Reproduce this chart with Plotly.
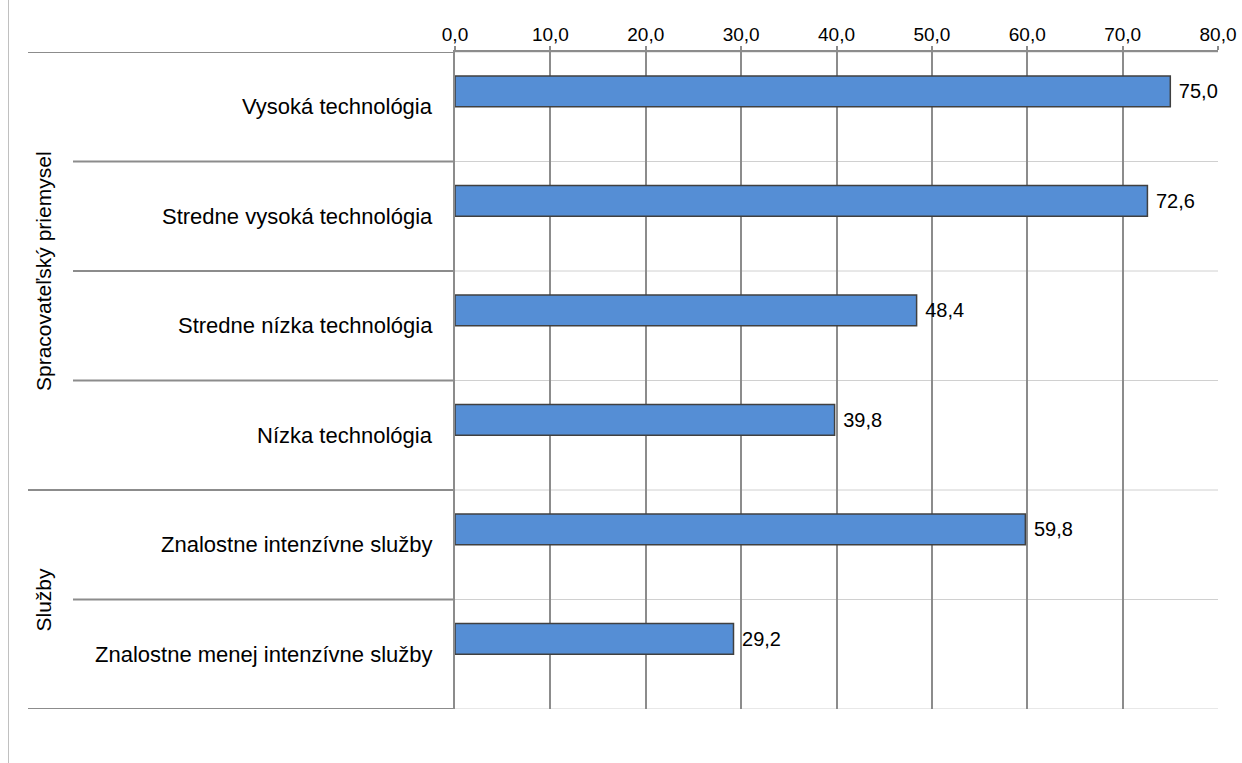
import plotly.graph_objects as go

# ── data ─────────────────────────────────────────────────────────────────────
categories = [
    "Vysoká technológia",
    "Stredne vysoká technológia",
    "Stredne nízka technológia",
    "Nízka technológia",
    "Znalostne intenzívne služby",
    "Znalostne menej intenzívne služby",
]
values = [75.0, 72.6, 48.4, 39.8, 59.8, 29.2]

groups = ["Spracovateľský priemysel", "Služby"]
group_sizes = [4, 2]

x_ticks = [0, 10, 20, 30, 40, 50, 60, 70, 80]

# ── layout constants ─────────────────────────────────────────────────────────
W, H = 1242, 763
M = dict(l=455, r=W - 1218, t=52, b=H - 709)
PW = W - M["l"] - M["r"]
PH = H - M["t"] - M["b"]

BAR = "#558ed5"
GRID = "#8c8c8c"
SEP_IN = "#d0d0d0"
FONT = "Arial, Liberation Sans, sans-serif"


def px_to_xpaper(px):
    return (px - M["l"]) / PW


def px_to_ypaper(py):
    return (H - M["b"] - py) / PH


pos = list(range(len(categories)))

fig = go.Figure(go.Bar(
    x=values, y=pos, orientation="h",
    width=0.28, offset=-0.28,
    marker=dict(color=BAR, line=dict(color="#404040", width=1.5)),
    text=values, texttemplate=" %{x:.1f}", textposition="outside",
    textfont=dict(size=20, color="#000000"),
    cliponaxis=False, hoverinfo="skip",
))

shapes = []
# group boundaries
bounds_group = {0}
acc = 0
for s in group_sizes:
    acc += s
    bounds_group.add(acc)

for b in range(len(categories) + 1):
    yb = b - 0.5
    # light separator inside plot
    shapes.append(dict(type="line", xref="paper", yref="y", x0=0, x1=1,
                       y0=yb, y1=yb, line=dict(color=SEP_IN, width=1),
                       layer="below"))
    start = 28 if b in bounds_group else 73
    shapes.append(dict(type="line", xref="paper", yref="y",
                       x0=px_to_xpaper(start), x1=0, y0=yb, y1=yb,
                       line=dict(color=GRID, width=2)))

# chart border at the left edge
shapes.append(dict(type="line", xref="paper", yref="paper",
                   x0=px_to_xpaper(8.5), x1=px_to_xpaper(8.5),
                   y0=px_to_ypaper(0), y1=px_to_ypaper(H),
                   line=dict(color="#c0c0c0", width=1)))

annotations = []
for i, c in enumerate(categories):
    annotations.append(dict(text=c, xref="paper", yref="y", x=0, y=i,
                            xanchor="right", yanchor="middle", xshift=-20,
                            showarrow=False, font=dict(size=22, color="#000000")))

acc = 0
for g, s in zip(groups, group_sizes):
    center = acc + (s - 1) / 2
    annotations.append(dict(text=g, xref="paper", yref="y",
                            x=px_to_xpaper(43), y=center, textangle=-90,
                            xanchor="center", yanchor="middle", showarrow=False,
                            font=dict(size=21, color="#000000")))
    acc += s

fig.update_layout(
    template="none",
    width=W, height=H,
    margin=M,
    autosize=False,
    paper_bgcolor="white",
    plot_bgcolor="white",
    font=dict(family=FONT, size=19, color="#000000"),
    separators=",.",
    showlegend=False,
    shapes=shapes,
    annotations=annotations,
    xaxis=dict(side="top", range=[0, 80], tickvals=x_ticks, tickformat=".1f",
               showgrid=True, gridcolor=GRID, gridwidth=1.5,
               zeroline=False, showline=True, linecolor=GRID, linewidth=2,
               ticks="outside", ticklen=4, tickcolor=GRID, tickwidth=1.5,
               ticklabelstandoff=-3, automargin=False,
               tickfont=dict(size=19), fixedrange=True),
    yaxis=dict(range=[len(categories) - 0.5, -0.5], showticklabels=False,
               showgrid=False, zeroline=False, showline=True,
               linecolor=GRID, linewidth=2, automargin=False,
               fixedrange=True),
)

# drop the default page margin so the figure sits at the window origin
fig.write_html(
    "out.html",
    config={"responsive": False, "displayModeBar": False},
    post_script="document.body.style.margin='0';document.body.style.overflow='hidden';",
)
